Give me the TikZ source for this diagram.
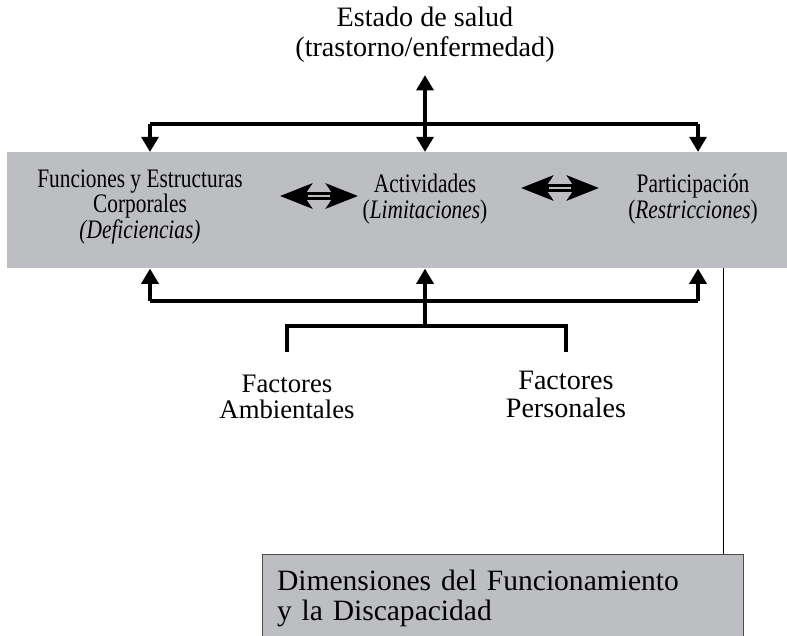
\documentclass[tikz,border=0pt]{standalone}
\usepackage{fontspec}
\setmainfont{Liberation Serif}
\newfontfamily\panelfont[FakeStretch=0.8]{Liberation Serif}
\usetikzlibrary{arrows.meta}
\definecolor{panelgray}{RGB}{189,190,193}

\tikzset{
	conn/.style = {line width = 0.1cm},
	tip/.style = {-{Triangle[width = 0.42cm, length = 0.38cm]}},
	bitip/.style = {{Triangle[width = 0.42cm, length = 0.38cm]}-{Triangle[width = 0.42cm, length = 0.38cm]}},
	bigarrow/.style = {line width = 0.22cm, {Stealth[length = 0.8cm, width = 0.62cm, inset = 0.2cm]}-{Stealth[length = 0.8cm, width = 0.62cm, inset = 0.2cm]}},
	toptext/.style = {align = center, inner sep = 0, font = \fontsize{20}{21.5}\selectfont},
	paneltext/.style = {align = center, inner sep = 0, font = \panelfont\fontsize{19}{19}\selectfont},
	factext/.style = {align = center, inner sep = 0},
	dimbox/.style = {draw = black!70, fill = panelgray, line width = 0.7pt, anchor = north west,
		minimum width = 12.025cm, minimum height = 2.2cm, text width = 11.3cm, align = left,
		inner xsep = 0.35cm, font = \fontsize{21}{21.5}\selectfont}
}

\begin{document}
\begin{tikzpicture}[x = 0.025cm, y = -0.025cm]
	\useasboundingbox (0,0) rectangle (787,636);
	\node (panel) [fill = panelgray, anchor = north west, minimum width = 19.5cm, minimum height = 2.9cm, inner sep = 0] at (7,152) {};
	\node (salud) [toptext] at (425,35) {Estado de salud\\(trastorno/enfermedad)};
	\node (funciones) [paneltext, font = \panelfont\fontsize{19}{15.5}\selectfont] at (140,207) {Funciones y Estructuras\\Corporales\\\textit{(Deficiencias)}};
	\node (actividades) [paneltext] at (425,199) {Actividades\\(\textit{Limitaciones})};
	\node (participacion) [paneltext] at (693,199) {Participación\\(\textit{Restricciones})};
	\node (ambientales) [factext, font = \fontsize{19}{18}\selectfont] at (287,397) {Factores\\Ambientales};
	\node (personales) [factext, font = \fontsize{20}{20}\selectfont] at (566,394) {Factores\\Personales};
	\node (dimensiones) [dimbox] at (262,554) {Dimensiones del Funcionamiento\\y la Discapacidad};

	% salud -> panel
	\coordinate (tl) at (150,124);
	\coordinate (tr) at (698,124);
	\draw [conn] (tl) -- (tr);
	\foreach \c in {tl,tr}
	\draw [conn, tip] (\c) -- (\c |- panel.north);
	\draw [conn, bitip] ([yshift = -0.3cm]salud.south) -- (salud.south |- panel.north);

	% factores -> panel
	\coordinate (bl) at (150,301);
	\coordinate (bm) at (425,301);
	\coordinate (br) at (698,301);
	\coordinate (fm) at (425,326);
	\coordinate (fend) at (0,352);
	\draw [conn] (bl) -- (br);
	\foreach \c in {bl,bm,br}
	\draw [conn, tip] (\c) -- (\c |- panel.south);
	\draw [conn] (bm) -- (fm);
	\draw [conn] (ambientales.north |- fend) |- (fm) -| (personales.north |- fend);

	% double arrows inside the panel
	\coordinate (fa) at (319,196);
	\coordinate (ap) at (560,188);
	\foreach \c in {fa,ap} {
		\draw [bigarrow] ([xshift = -0.975cm]\c) -- ([xshift = 0.975cm]\c);
		\draw [line width = 0.05cm, panelgray] ([xshift = -0.28cm]\c) -- ([xshift = 0.28cm]\c);
	}

	% panel -> dimensiones
	\coordinate (link) at (723,268);
	\draw [line width = 0.7pt] (link) -- (link |- dimensiones.north);
\end{tikzpicture}
\end{document}
